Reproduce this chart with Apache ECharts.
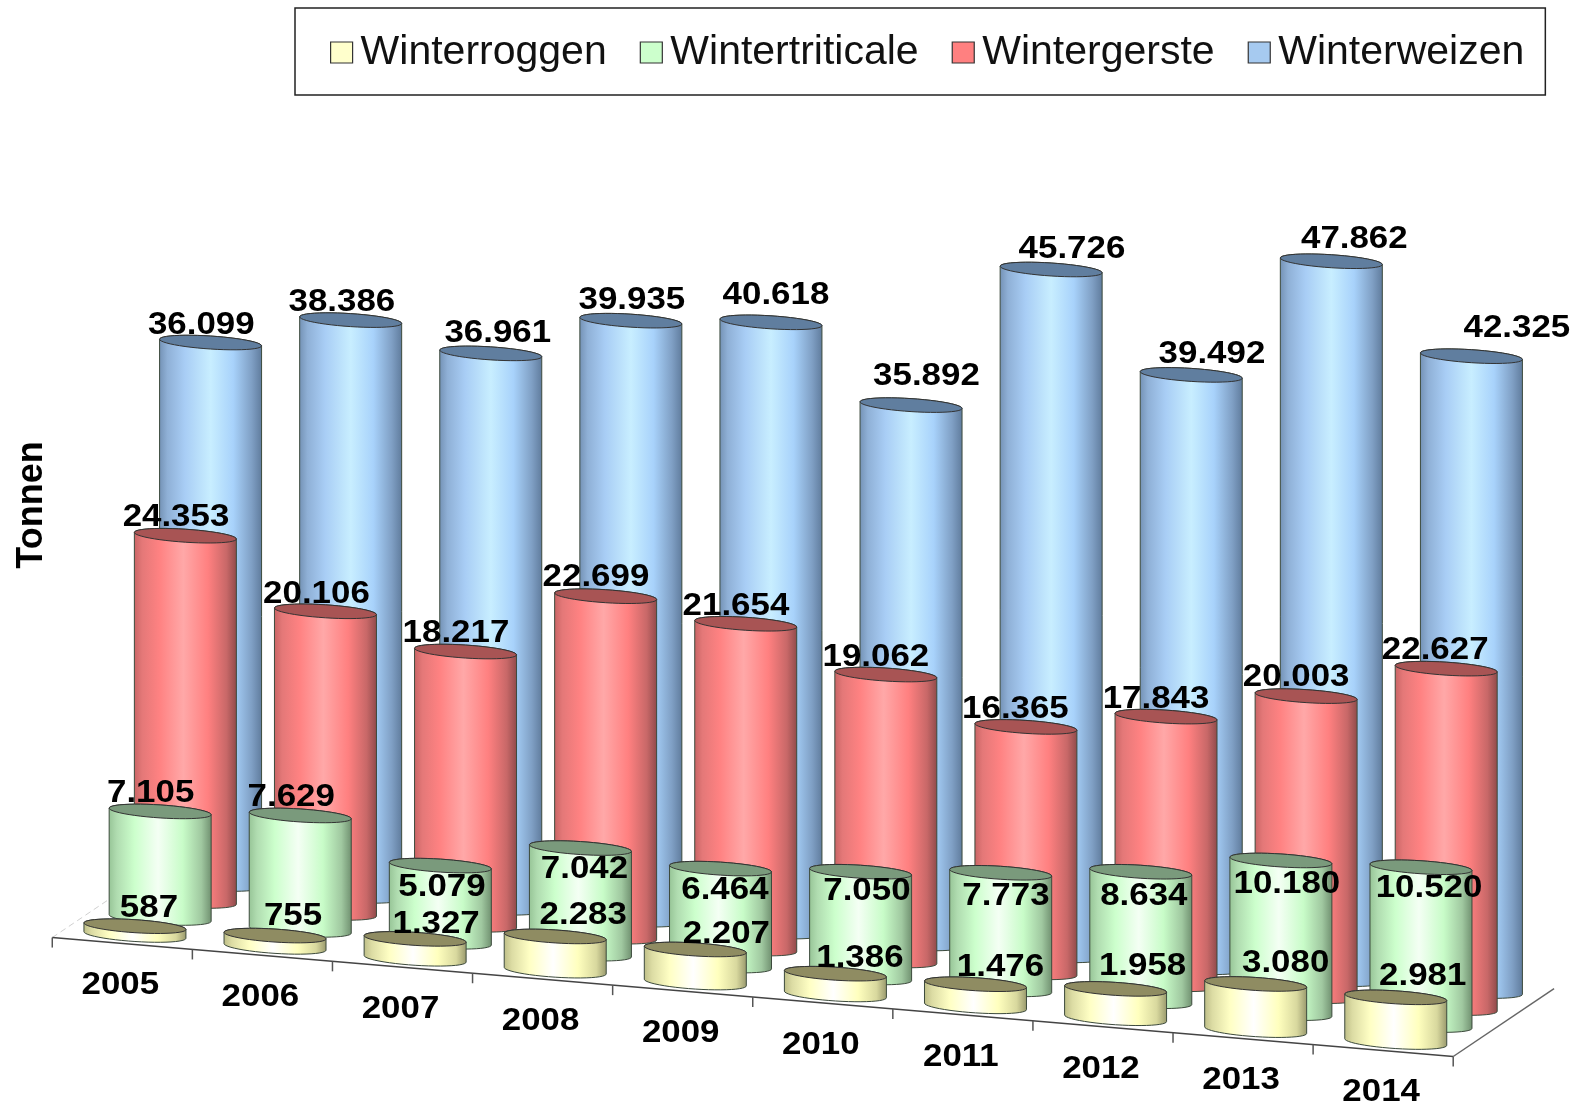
<!DOCTYPE html>
<html><head><meta charset="utf-8">
<style>html,body{margin:0;padding:0;background:#fff}#c{width:1586px;height:1104px;filter:blur(0.6px)}</style>
<script src="https://cdn.jsdelivr.net/npm/echarts@6/dist/echarts.min.js"></script>
</head><body><div id="c"></div>
<script>
const years = [2005,2006,2007,2008,2009,2010,2011,2012,2013,2014];
const winterroggen = [587,755,1327,2283,2207,1386,1476,1958,3080,2981];
const wintertriticale = [7105,7629,5079,7042,6464,7050,7773,8634,10180,10520];
const wintergerste = [24353,20106,18217,22699,21654,19062,16365,17843,20003,22627];
const winterweizen = [36099,38386,36961,39935,40618,35892,45726,39492,47862,42325];

// label nudges in pixels, relative to the top of each cylinder
const nudgeRoggen = [[14,-18],[18,-19],[21,-15],[28,-21],[31,-15],[24.5,-16],[25,-17],[27,-23],[30,-21],[27,-21]];
const nudgeTriticale = [[-9.5,-18],[-9,-18],[1.6,22],[4,21],[4.4,21.4],[6.3,19.3],[5.2,23],[3,24],[6,23.5],[8,20.7]];
const nudgeGerste = [[-9.4,-18.7],[-9,-17.3],[-9.6,-18.5],[-9.7,-18.7],[-9.8,-17.8],[-10,-17],[-10.5,-18],[-10,-17],[-10,-18.5],[-11,-18.7]];
const nudgeWeizen = [[-9.3,-17.8],[-8.8,-17.7],[7,-20.6],[1,-20.3],[5,-27],[15.4,-28.8],[20.8,-20.7],[20.7,-20.9],[23,-21.6],[45.5,-28.5]];

// oblique projection, in axis units
const DEPTH_X = 0.18, DEPTH_Y = 1133, CAT_Y = -793;
const RX = 0.364, RY = 433, SKEW = -220;
const FONT_BOLD = 'bold 32px "Liberation Sans", Arial, sans-serif';
const TEXT_STRETCH = 1.09;

function grad(stops){
  return new echarts.graphic.LinearGradient(0,0,1,0,stops.map(s=>({offset:s[0],color:s[1]})));
}
const looks = {
  roggen:{side:[[0,'#bdbd86'],[.08,'#dcdca4'],[.25,'#ffffc4'],[.48,'#ffffff'],[.72,'#ffffbe'],[.9,'#d8d89e'],[1,'#98986c']],top:'#8f8c62',legend:'#ffffcc'},
  tri:{side:[[0,'#96c496'],[.08,'#b0dcb0'],[.25,'#ccffcc'],[.48,'#f4fff4'],[.72,'#c8fcc8'],[.9,'#a0c8a0'],[1,'#6f8f6f']],top:'#7a9a7c',legend:'#ccffcc'},
  gerste:{side:[[0,'#c86464'],[.08,'#e47878'],[.25,'#ff8282'],[.48,'#ffa8a8'],[.72,'#ff8080'],[.9,'#c86868'],[1,'#8f4a4a']],top:'#a85454',legend:'#ff8080'},
  weizen:{side:[[0,'#7391b4'],[.08,'#8fb0d6'],[.25,'#a8cdf5'],[.5,'#c8eeff'],[.72,'#a8d2fb'],[.9,'#7f9fc4'],[1,'#5f7b9c']],top:'#607e9f',legend:'#a6caf0'}
};

function fmt(v){ return String(v).replace(/\B(?=(\d{3})+$)/g,'.'); }

function cylinder(depth, look, nudge){
  return function(params, api){
    const c = api.value(0), v = api.value(1);
    const cx = c + depth*DEPTH_X, by = CAT_Y*c + DEPTH_Y*depth;
    const topRing = [], side = [];
    const N = 48;
    for(let i=0;i<=N;i++){
      const t = Math.PI*2*i/N, co = Math.cos(t), si = Math.sin(t);
      topRing.push(api.coord([cx+RX*co, by+v+SKEW*co+RY*si]));
    }
    for(let i=0;i<=N/2;i++){
      const t = Math.PI + Math.PI*2*i/N, co = Math.cos(t), si = Math.sin(t);
      side.push(api.coord([cx+RX*co, by+v+SKEW*co-RY*si]));
    }
    for(let i=0;i<=N/2;i++){
      const t = Math.PI*2*i/N, co = Math.cos(t), si = Math.sin(t);
      side.push(api.coord([cx+RX*co, by+SKEW*co-RY*si]));
    }
    const anchor = api.coord([cx, by+v]);
    const n = nudge[params.dataIndex];
    return {type:'group',children:[
      {type:'polygon',shape:{points:side},style:{fill:grad(look.side),stroke:'#3c4a3c',lineWidth:1}},
      {type:'polygon',shape:{points:topRing},style:{fill:look.top,stroke:'#333',lineWidth:1}},
      {type:'text',x:anchor[0]+n[0],y:anchor[1]+n[1],scaleX:TEXT_STRETCH,
        style:{text:fmt(v),font:FONT_BOLD,fill:'#000',align:'center',verticalAlign:'middle'}}
    ]};
  };
}

function floorItem(params, api){
  const p = (c,d,extra)=>api.coord([c+d*DEPTH_X, CAT_Y*c+DEPTH_Y*d+(extra||0)]);
  const C0=-0.5,C1=9.5,D0=-0.5,D1=3.5;
  const kids = [];
  const c = api.value(0);
  if(params.dataIndex===0){
    const a=p(C0,D0),b=p(C1,D0),r=p(C1,D1),l=p(C0,D1);
    kids.push({type:'line',shape:{x1:a[0],y1:a[1],x2:l[0],y2:l[1]},style:{stroke:'#d0d0d0',lineWidth:1,lineDash:[6,4]}});
    kids.push({type:'line',shape:{x1:a[0],y1:a[1],x2:b[0],y2:b[1]},style:{stroke:'#444',lineWidth:1.5}});
    kids.push({type:'line',shape:{x1:b[0],y1:b[1],x2:r[0],y2:r[1]},style:{stroke:'#666',lineWidth:1.5}});
  }
  const t0=p(c-0.5,D0), t1=p(c-0.5,D0,-667);
  kids.push({type:'line',shape:{x1:t0[0],y1:t0[1],x2:t1[0],y2:t1[1]},style:{stroke:'#555',lineWidth:1.5}});
  if(c<years.length){
    const lab=p(c,D0,-2667);
    kids.push({type:'text',x:lab[0]-2,y:lab[1]+2,scaleX:TEXT_STRETCH,style:{text:String(years[c]),font:FONT_BOLD,fill:'#000',align:'center',verticalAlign:'middle'}});
  }
  return {type:'group',children:kids};
}

function mk(name,arr,depth,look,nudge){
  return {name,type:'custom',coordinateSystem:'cartesian2d',clip:false,
    renderItem:cylinder(depth,look,nudge),
    encode:{x:0,y:1},
    itemStyle:{color:look.legend},
    data:arr.map((v,i)=>[i,v])};
}

const chart = echarts.init(document.getElementById('c'),null,{renderer:'canvas'});
chart.setOption({
  animation:false,
  backgroundColor:'#fff',
  grid:{left:22.86,top:35,width:1513,height:1065,containLabel:false},
  xAxis:{type:'value',min:-0.8,max:10,show:false},
  yAxis:{type:'value',min:-11000,max:60000,show:false},
  tooltip:{show:false},
  legend:{
    left:295,top:8,
    data:['Winterroggen','Wintertriticale','Wintergerste','Winterweizen'],
    orient:'horizontal',
    padding:[24,21,22,35],
    itemGap:33,itemWidth:22,itemHeight:21,
    icon:'rect',
    borderColor:'#222',borderWidth:1.5,
    itemStyle:{borderColor:'#333',borderWidth:1.2},
    textStyle:{fontFamily:'"Liberation Sans", Arial, sans-serif',fontSize:41,color:'#111',padding:[0,0,0,3]}
  },
  graphic:[{type:'text',x:32,y:505,rotation:Math.PI/2,
    style:{text:'Tonnen',font:'bold 36px "Liberation Sans", Arial, sans-serif',fill:'#000',align:'center',verticalAlign:'middle'}}],
  series:[
    {name:'floor',type:'custom',coordinateSystem:'cartesian2d',clip:false,renderItem:floorItem,encode:{x:0,y:1},
      data:years.map((y,i)=>[i,0]).concat([[years.length,0]])},
    mk('Winterweizen',winterweizen,3,looks.weizen,nudgeWeizen),
    mk('Wintergerste',wintergerste,2,looks.gerste,nudgeGerste),
    mk('Wintertriticale',wintertriticale,1,looks.tri,nudgeTriticale),
    mk('Winterroggen',winterroggen,0,looks.roggen,nudgeRoggen)
  ]
});
</script></body></html>
